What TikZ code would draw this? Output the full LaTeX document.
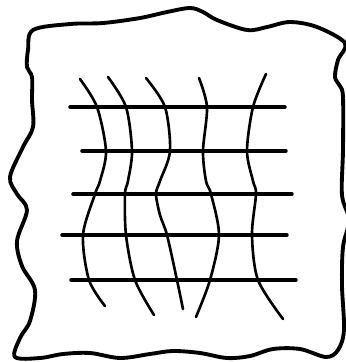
\documentclass[tikz,border=0pt]{standalone}
\usetikzlibrary{calc}
\tikzset{
  % sheet outline, horizontal bars, wavy strands
  rimline/.style={draw=black, line width=1.1pt, line join=round},
  barline/.style={draw=black, line width=1.0pt, line cap=round},
  strandline/.style={draw=black, line width=0.75pt, line cap=round},
}

\begin{document}
\begin{tikzpicture}[x=0.1mm, y=-0.1mm]
  \useasboundingbox (0,0) rectangle (346,362);

  % outline
  \draw[rimline] plot[smooth cycle, tension=0.55] coordinates {
    (33,30) (70,24) (103,23) (140,18) (167,12) (190,8) (203,12) (217,20)
    (247,30) (267,27) (290,22) (317,27) (345,43)
    (338,60) (335,77) (340,86) (343,97) (343,150) (342,195) (349,220)
    (343,247) (342,285) (344,330) (338,350) (326,357)
    (300,349) (273,349) (250,356) (227,358) (200,353) (173,351) (150,354)
    (120,358) (90,353) (63,354) (40,358) (15,357)
    (20,338) (30,321) (35,290) (22,266) (17,241) (27,210) (17,194)
    (10,177) (23,147) (33,127) (32,100) (32,77) (27,67) (28,50)
  };

  % horizontal bars
  \foreach \y/\xa/\xb in {107/70/285, 151/82/286, 194/73/292, 235/62/287, 280/71/296} {
    \draw[barline] (\xa,\y) -- (\xb,\y);
  }

  % strands
  \draw[strandline] plot[smooth] coordinates {
    (80,79) (97,107) (106,151) (100,181) (95,194) (83,235) (89,280) (105,306)};
  \draw[strandline] plot[smooth] coordinates {
    (108,77) (126,107) (132,151) (128,181) (125,194) (126,235) (135,280) (154,315)};
  \draw[strandline] plot[smooth] coordinates {
    (146,78) (165,107) (170,151) (160,181) (156,194) (160,215) (167,235) (177,280) (183,309)};
  \draw[strandline] plot[smooth] coordinates {
    (199,78) (207,107) (203,151) (206,181) (211,194) (219,235) (210,280) (196,317)};
  \draw[strandline] plot[smooth] coordinates {
    (266,74) (253,107) (247,151) (253,181) (256,194) (252,235) (258,280) (283,319)};
\end{tikzpicture}
\end{document}
